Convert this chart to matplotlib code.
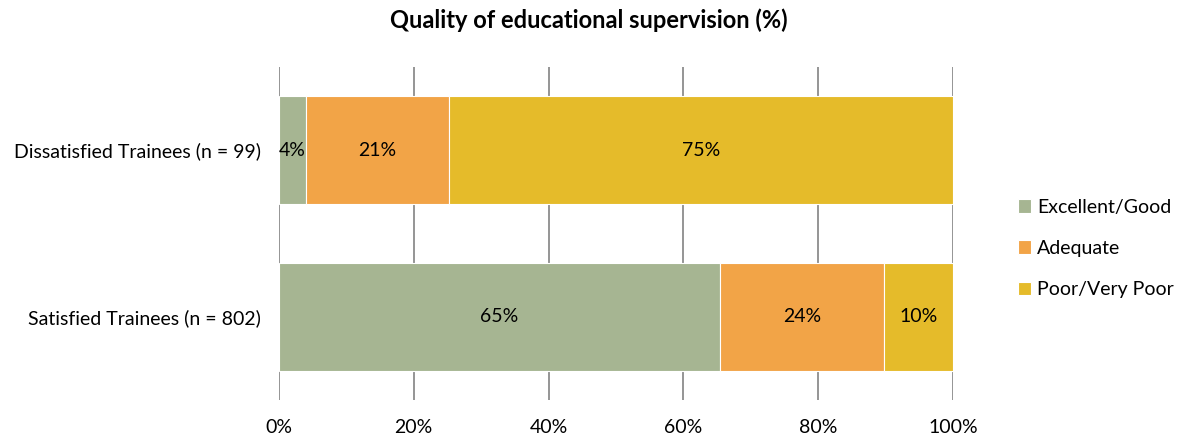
import numpy as np
import matplotlib
matplotlib.use("Agg")
from matplotlib import pyplot as plt

plt.rcParams['font.family'] = ['Lato', 'DejaVu Sans']

# datos
categorias = ['Satisfied Trainees (n = 802)', 'Dissatisfied Trainees (n = 99)']
series = ['Excellent/Good', 'Adequate', 'Poor/Very Poor']
excelente = [65.4, 4.0]
adecuado = [24.4, 21.2]
pobre = [10.2, 74.8]
etiquetas = [['65%', '4%'], ['24%', '21%'], ['10%', '75%']]
colores = ['#a6b592', '#f2a447', '#e5bb2a']

fig = plt.figure(figsize=(11.78, 4.4), dpi=100)
ax = fig.add_axes([0.2368, 0.0909, 0.809 - 0.2368, 0.848 - 0.0909])

y = np.arange(len(categorias))
izquierda = np.zeros(len(categorias))
for i, valores in enumerate([excelente, adecuado, pobre]):
    barras = ax.barh(y, valores, left=izquierda, height=0.65, color=colores[i],
                     edgecolor='white', linewidth=0.8, label=series[i], zorder=3)
    for j, b in enumerate(barras):
        ax.text(izquierda[j] + valores[j] / 2, y[j], etiquetas[i][j],
                ha='center', va='center', fontsize=14, color='black', zorder=4)
    izquierda += np.array(valores)

ax.set_xlim(0, 100)
ax.set_ylim(-0.5, 1.5)
ax.set_xticks(np.arange(0, 101, 20))
ax.set_xticklabels([f'{v}%' for v in range(0, 101, 20)], fontsize=14)
ax.set_yticks(y)
ax.set_yticklabels(categorias, fontsize=14)
ax.tick_params(length=0)
ax.tick_params(axis='x', pad=14)
ax.tick_params(axis='y', pad=13)
ax.xaxis.grid(True, color='#8c8c8c', linewidth=1.3, zorder=0)
for s in ax.spines.values():
    s.set_visible(False)

fig.suptitle('Quality of educational supervision (%)', fontsize=17,
             fontweight='bold', y=0.98)

ax.legend(loc='center left', bbox_to_anchor=(1.07, 0.455), frameon=False,
          fontsize=14, handlelength=0.7, handleheight=0.7, handletextpad=0.3,
          labelspacing=1.25)

fig.savefig('out.png', dpi=100)
